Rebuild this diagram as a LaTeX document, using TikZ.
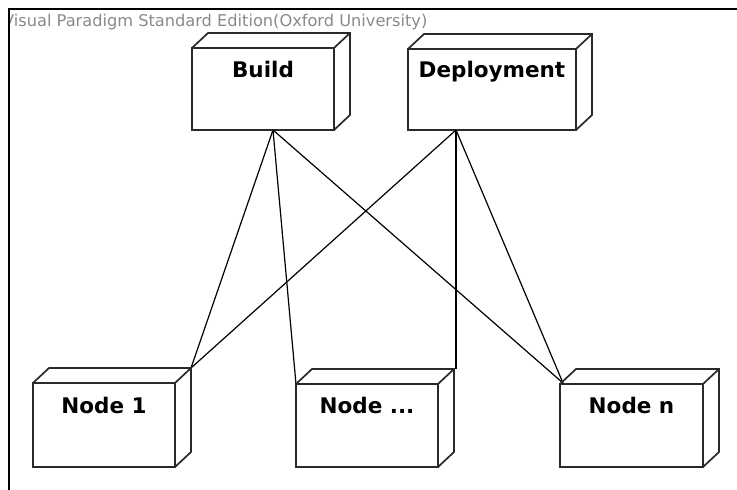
\documentclass[tikz,border=0pt]{standalone}
\usepackage{fontspec}
\setmainfont{DejaVu Sans}
\usetikzlibrary{calc}
\definecolor{boxline}{HTML}{2A2A2A}
\definecolor{titlegray}{HTML}{8A8A8A}
\tikzset{
  nodebox/.style={draw=boxline, line width=1.7pt, fill=white, rectangle, inner sep=0pt, outer sep=0pt, anchor=north west},
  depth/.style={draw=boxline, line width=1.7pt, line join=miter},
  boxlabel/.style={font=\fontsize{21.5}{24}\selectfont\bfseries, anchor=base, inner sep=0pt},
  conn/.style={draw=black, line width=1.2pt},
  frame/.style={draw=black, line width=1.8pt}
}
\newcommand{\depthbox}[1]{%
  \draw[depth] (#1.north west) -- ++(16,-15) -- ($(#1.north east)+(16,-15)$) -- ($(#1.south east)+(16,-15)$) -- (#1.south east);
  \draw[depth] (#1.north east) -- ++(16,-15);
}
\begin{document}
\begin{tikzpicture}[x=1pt,y=-1pt]
\useasboundingbox (0,0) rectangle (737,490);
\fill[white] (0,0) rectangle (737,490);
% frame
\coordinate (fbl) at (9,490);
\coordinate (ftl) at (9,9);
\coordinate (ftr) at (737,9);
\draw[frame] (fbl) -- (ftl) -- (ftr);
\begin{scope}
\clip (10,10) rectangle (737,40);
\node[anchor=base west, inner sep=0pt, text=titlegray, font=\fontsize{16.2}{18}\selectfont] (title) at (3,26) {Visual Paradigm Standard Edition(Oxford University)};
\end{scope}
% boxes
\node[nodebox, minimum width=142pt, minimum height=82pt] (build) at (192,48) {};
\node[nodebox, minimum width=168pt, minimum height=81pt] (deploy) at (408,49) {};
\node[nodebox, minimum width=142pt, minimum height=84pt] (n1) at (33,383) {};
\node[nodebox, minimum width=142pt, minimum height=83pt] (nd) at (296,384) {};
\node[nodebox, minimum width=143pt, minimum height=83pt] (nn) at (560,384) {};
% connector anchors
\coordinate (bo) at ($(build.south west)+(81,0)$);
\coordinate (do) at ($(deploy.south west)+(48,0)$);
\coordinate (n1t) at ($(n1.north east)+(16,-15)$);
\coordinate (ndl) at (nd.north west);
\coordinate (ndtop) at ($(nd.north east)+(16,-15)$);
\coordinate (ndr) at (do |- ndtop);
\coordinate (nnl) at ($(nn.north west)+(3,-1)$);
% connectors
\draw[conn] (bo) -- (n1t);
\draw[conn] (bo) -- (ndl);
\draw[conn] (bo) -- (nnl);
\draw[conn] (do) -- (n1t);
\draw[conn] (do) -- (ndr);
\draw[conn] (do) -- (nnl);
% 3D sides
\depthbox{build}
\depthbox{deploy}
\depthbox{n1}
\depthbox{nd}
\depthbox{nn}
% labels
\node[boxlabel] (buildlbl) at ($(build.north)+(0,29)$) {Build};
\node[boxlabel] (deploylbl) at ($(deploy.north)+(0,28)$) {Deployment};
\node[boxlabel] (n1lbl) at ($(n1.north)+(0,30)$) {Node 1};
\node[boxlabel] (ndlbl) at ($(nd.north)+(0,29)$) {Node ...};
\node[boxlabel] (nnlbl) at ($(nn.north)+(0,29)$) {Node n};
\end{tikzpicture}
\end{document}
